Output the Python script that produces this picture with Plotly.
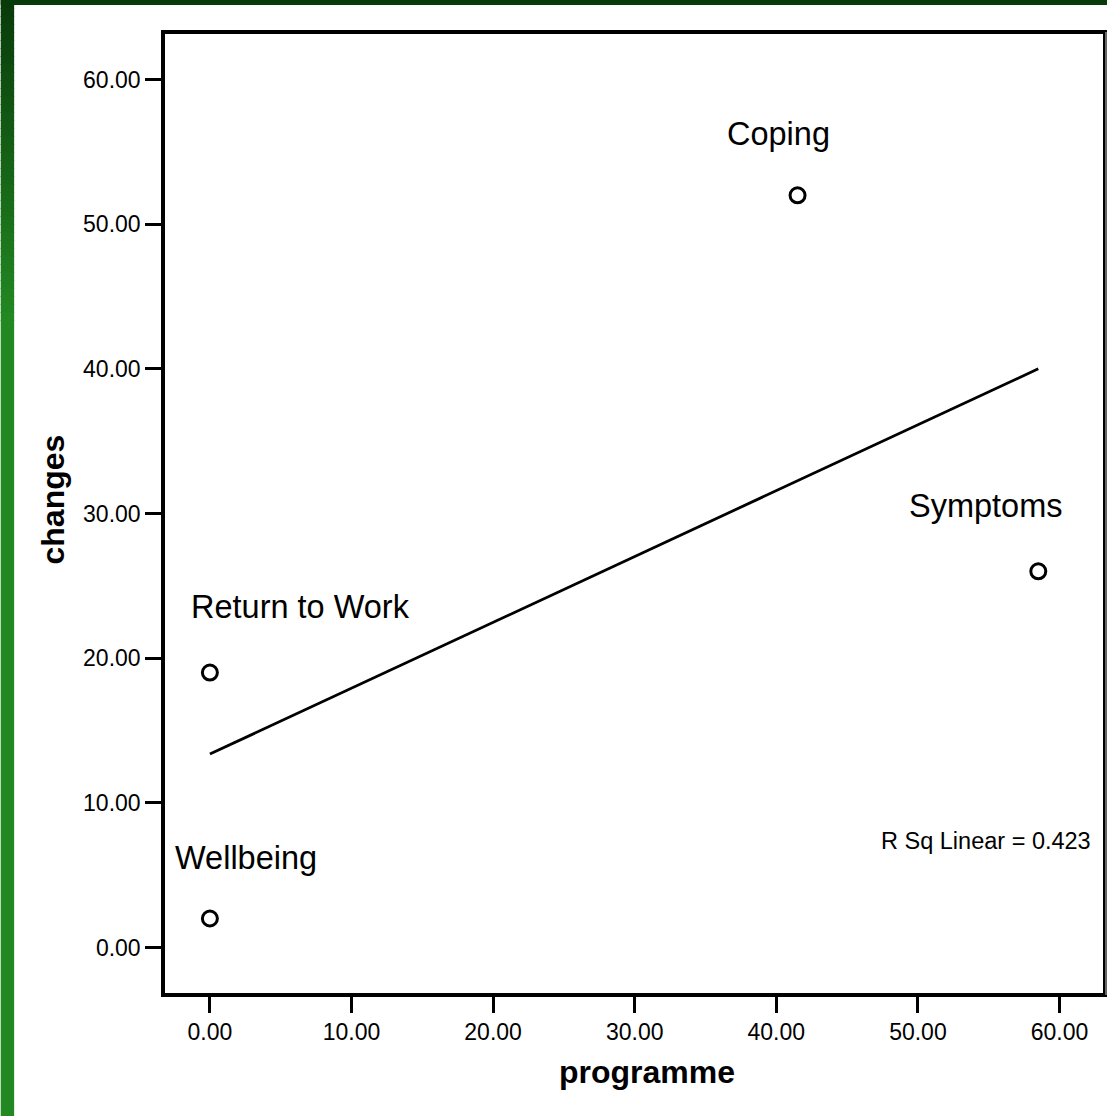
import numpy as np
import plotly.graph_objects as go

# Outcome domains: programme focus vs. reported changes
outcomes = ["Wellbeing", "Return to Work", "Coping", "Symptoms"]
programme = [0.0, 0.0, 41.5, 58.5]
changes = [2.0, 19.0, 52.0, 26.0]

tick_vals = [0, 10, 20, 30, 40, 50, 60]
tick_text = [f"{v:.2f}" for v in tick_vals]

# label placement relative to each point, in pixels (right, up)
label_dx = [36, 91, -19, -52]
label_dy = [61, 66, 61, 65]

# linear fit and its R squared
slope, intercept = np.polyfit(programme, changes, 1)
r2 = np.corrcoef(programme, changes)[0, 1] ** 2
x_fit = np.array([min(programme), max(programme)])
y_fit = intercept + slope * x_fit

FONT = "Arial, Liberation Sans, sans-serif"
W, H = 1111, 1116
ML, MR, MT, MB = 165, 4, 34, 123
PW, PH = W - ML - MR, H - MT - MB


def px_x(p):
    return (p - ML) / PW


def px_y(p):
    return (H - MB - p) / PH


fig = go.Figure()

fig.add_trace(go.Scatter(
    x=x_fit, y=y_fit, mode="lines",
    line=dict(color="black", width=2.8),
    hoverinfo="skip", showlegend=False,
))

fig.add_trace(go.Scatter(
    x=programme, y=changes, mode="markers",
    marker=dict(symbol="circle-open", size=15, color="black",
                line=dict(width=3, color="black")),
    text=outcomes, showlegend=False,
))

annotations = []
for name, xv, yv, dx, dy in zip(outcomes, programme, changes, label_dx, label_dy):
    annotations.append(dict(
        x=xv, y=yv, xref="x", yref="y", text=name, showarrow=False,
        xanchor="center", yanchor="middle", xshift=dx, yshift=dy,
        font=dict(family=FONT, size=32.5, color="black"),
    ))

annotations.append(dict(
    x=px_x(1097), y=px_y(841), xref="paper", yref="paper",
    text=f"R Sq Linear = {r2:.3f}", showarrow=False,
    xanchor="right", yanchor="middle",
    font=dict(family=FONT, size=23.5, color="black"),
))

# axis titles
annotations.append(dict(
    x=px_x(649), y=px_y(1072), xref="paper", yref="paper",
    text="<b>programme</b>", showarrow=False,
    xanchor="center", yanchor="middle",
    font=dict(family=FONT, size=32, color="black"),
))
annotations.append(dict(
    x=px_x(53), y=px_y(499), xref="paper", yref="paper",
    text="<b>changes</b>", showarrow=False, textangle=-90,
    xanchor="center", yanchor="middle",
    font=dict(family=FONT, size=32, color="black"),
))

# green page border: dark strip along the top, graded strip down the left
shapes = [dict(
    type="rect", xref="paper", yref="paper",
    x0=px_x(0), x1=px_x(W), y0=px_y(5), y1=px_y(0),
    fillcolor="#093b0a", line=dict(width=0), layer="above",
)]
top_rgb = np.array([9, 59, 10])
low_rgb = np.array([34, 136, 34])
steps = 40
grad_end = 320
for i in range(steps):
    t = i / (steps - 1)
    c = (top_rgb + (low_rgb - top_rgb) * t).round().astype(int)
    y0 = grad_end * i / steps
    y1 = grad_end * (i + 1) / steps + 1
    shapes.append(dict(
        type="rect", xref="paper", yref="paper",
        x0=px_x(0), x1=px_x(13.5), y0=px_y(y1), y1=px_y(y0),
        fillcolor=f"rgb({c[0]},{c[1]},{c[2]})", line=dict(width=0), layer="above",
    ))
shapes.append(dict(
    type="rect", xref="paper", yref="paper",
    x0=px_x(0), x1=px_x(13.5), y0=px_y(H), y1=px_y(grad_end),
    fillcolor="rgb(34,136,34)", line=dict(width=0), layer="above",
))
# soft grey edge just outside the right frame line
shapes.append(dict(
    type="line", xref="paper", yref="paper",
    x0=px_x(W - MR + 3), x1=px_x(W - MR + 3), y0=px_y(H - MB + 2), y1=px_y(MT - 2),
    line=dict(color="#8a8a8a", width=1.5), layer="above",
))

axis_common = dict(
    tickvals=tick_vals, ticktext=tick_text,
    ticks="outside", ticklen=16, tickwidth=3, tickcolor="black",
    showline=True, linewidth=3.5, linecolor="black", mirror=True,
    showgrid=False, zeroline=False,
    tickfont=dict(family=FONT, size=23, color="black"),
)

fig.update_layout(
    width=W, height=H,
    margin=dict(l=ML, r=MR, t=MT, b=MB, pad=0),
    paper_bgcolor="white", plot_bgcolor="white",
    xaxis=dict(range=[-3.17, 63.07], **axis_common),
    yaxis=dict(range=[-3.15, 63.15], **axis_common),
    annotations=annotations, shapes=shapes,
    showlegend=False,
)

fig.write_html("out.html")
